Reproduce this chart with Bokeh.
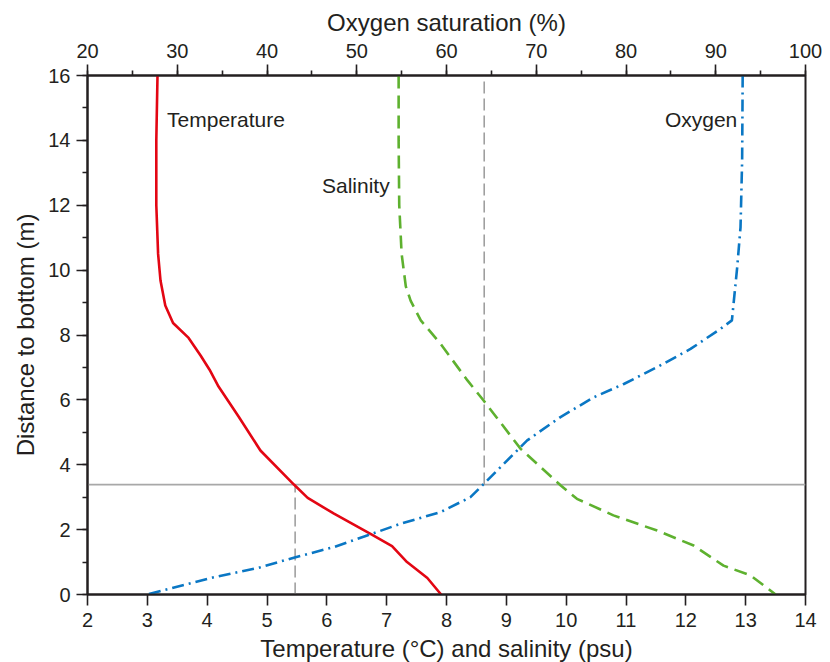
from bokeh.plotting import figure
from bokeh.models import Range1d, LinearAxis, SingleIntervalTicker, Label
from bokeh.embed import file_html
from bokeh.resources import INLINE

# Temperature (°C) vs distance to bottom (m)
temp_d = [16, 14, 12, 10.5, 9.68, 8.91, 8.37, 7.91, 7.37, 6.93, 6.41, 5.47, 4.44, 3.39, 2.98, 2.49, 1.87, 1.49, 1.00, 0.51, 0.0]
temp_v = [3.17, 3.15, 3.15, 3.18, 3.22, 3.30, 3.43, 3.69, 3.89, 4.04, 4.19, 4.53, 4.89, 5.45, 5.68, 6.12, 6.73, 7.09, 7.34, 7.68, 7.91]

# Salinity (psu) vs distance to bottom (m)
sal_d = [16, 14, 12, 10.5, 9.5, 9.06, 8.45, 7.73, 6.60, 5.98, 4.49, 3.36, 2.95, 2.44, 1.97, 1.51, 0.89, 0.59, 0.0]
sal_v = [7.20, 7.20, 7.21, 7.25, 7.32, 7.40, 7.57, 7.90, 8.35, 8.62, 9.24, 9.91, 10.18, 10.79, 11.52, 12.13, 12.63, 13.08, 13.50]

# Oxygen saturation (%) vs distance to bottom (m)
oxy_d = [16, 13.38, 11.32, 10.09, 8.45, 8.19, 7.57, 7.01, 6.49, 6.08, 5.47, 4.75, 4.03, 3.41, 3.00, 2.54, 2.18, 1.82, 1.46, 1.15, 0.84, 0.53, 0.0]
oxy_v = [93.0, 92.94, 92.76, 92.39, 91.8, 90.53, 87.19, 83.47, 79.76, 76.41, 72.70, 68.99, 66.39, 64.16, 62.67, 59.33, 54.87, 51.16, 47.44, 43.18, 39.28, 34.07, 26.65]

# Reference markers
ref_depth = 3.39
ref_temp = 5.47
ref_oxy = 64.2

series_labels = ["Temperature", "Salinity", "Oxygen"]

FONT = "Liberation Sans"
TXT = "#231f20"

p = figure(frame_width=718, frame_height=519, output_backend="svg", toolbar_location=None,
           x_range=Range1d(2, 14), y_range=Range1d(0, 16),
           min_border_left=87, min_border_right=25, min_border_top=75, min_border_bottom=68)
p.extra_x_ranges = {"oxy": Range1d(20, 100)}
p.xgrid.visible = False
p.ygrid.visible = False
p.background_fill_color = "white"
p.border_fill_color = "white"
p.outline_line_color = TXT
p.outline_line_width = 2

def style_axis(ax):
    ax.axis_line_color = TXT
    ax.axis_line_width = 2
    ax.major_tick_line_color = TXT
    ax.major_tick_line_width = 1.6
    ax.minor_tick_line_color = TXT
    ax.minor_tick_line_width = 1.6
    ax.major_tick_in = 0
    ax.major_tick_out = 11
    ax.minor_tick_in = 0
    ax.minor_tick_out = 5
    ax.major_label_text_font = FONT
    ax.major_label_text_font_size = "20px"
    ax.major_label_text_color = TXT
    ax.major_label_standoff = 7
    ax.axis_label_text_font = FONT
    ax.axis_label_text_font_size = "24px"
    ax.axis_label_text_font_style = "normal"
    ax.axis_label_text_color = TXT

xb = p.xaxis[0]
xb.ticker = SingleIntervalTicker(interval=1, num_minor_ticks=0)
xb.axis_label = "Temperature (°C) and salinity (psu)"
style_axis(xb)
xb.axis_label_standoff = 5

yl = p.yaxis[0]
yl.ticker = SingleIntervalTicker(interval=2, num_minor_ticks=2)
yl.axis_label = "Distance to bottom (m)"
style_axis(yl)
yl.major_label_standoff = 6
yl.axis_label_standoff = 6

xt = LinearAxis(x_range_name="oxy", axis_label="Oxygen saturation (%)",
                ticker=SingleIntervalTicker(interval=10, num_minor_ticks=2))
style_axis(xt)
xt.axis_label_standoff = 5
p.add_layout(xt, "above")

# reference lines
p.line([2, 14], [ref_depth, ref_depth], line_color="#a8a8a8", line_width=1.8)
p.line([ref_temp, ref_temp], [0, ref_depth], line_color="#999999", line_width=1.5, line_dash="12 5")
p.line([ref_oxy, ref_oxy], [ref_depth, 16], x_range_name="oxy", line_color="#999999", line_width=1.5, line_dash="12 5")

# data lines
p.line(temp_v, temp_d, line_color="#e30613", line_width=2.6)
p.line(sal_v, sal_d, line_color="#5eb12f", line_width=2.6, line_dash="13 7")
p.line(oxy_v, oxy_d, x_range_name="oxy", line_color="#0a77c4", line_width=2.6, line_dash="12 5 2 5")

# series labels
for txt, x, y, align, rng in [(series_labels[0], 3.33, 14.65, "left", "default"),
                              (series_labels[1], 7.05, 12.6, "right", "default"),
                              (series_labels[2], 92.4, 14.65, "right", "oxy")]:
    lab = Label(x=x, y=y, text=txt, text_font=FONT, text_font_size="21px", text_color=TXT,
                text_align=align, text_baseline="middle", x_range_name=rng)
    p.add_layout(lab)

open("out.html", "w").write(file_html(p, INLINE))
